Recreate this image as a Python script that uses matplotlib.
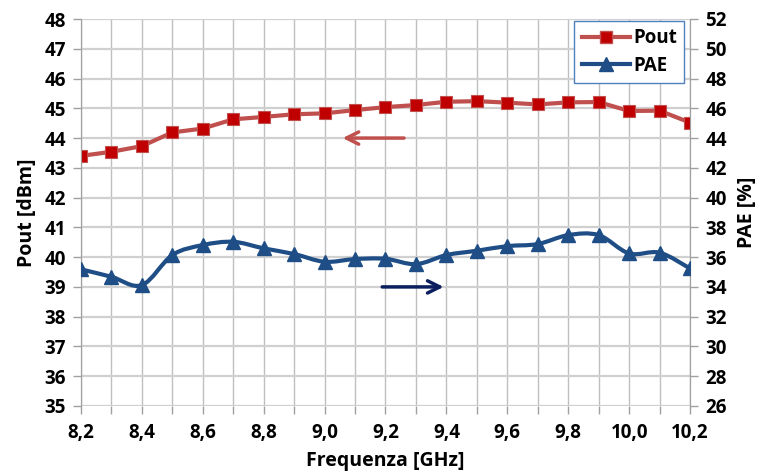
import numpy as np
import matplotlib
matplotlib.use("Agg")
import matplotlib.pyplot as plt
from matplotlib.path import Path
from matplotlib.patches import PathPatch
from matplotlib.ticker import MultipleLocator, FuncFormatter

freq = [8.2, 8.3, 8.4, 8.5, 8.6, 8.7, 8.8, 8.9, 9.0, 9.1, 9.2,
        9.3, 9.4, 9.5, 9.6, 9.7, 9.8, 9.9, 10.0, 10.1, 10.2]
pout = [43.40, 43.54, 43.73, 44.19, 44.32, 44.63, 44.71, 44.80, 44.83, 44.94, 45.04,
        45.11, 45.22, 45.24, 45.19, 45.13, 45.20, 45.21, 44.91, 44.92, 44.52]
pae = [35.18, 34.68, 34.12, 36.14, 36.81, 37.03, 36.59, 36.21, 35.69, 35.87, 35.89,
       35.53, 36.14, 36.43, 36.74, 36.88, 37.48, 37.48, 36.25, 36.30, 35.24]

red_line = "#C0504D"
red_mark = "#C00000"
blue = "#1F4E87"
navy = "#0B1F5E"

plt.rcParams['font.family'] = ['Open Sans', 'DejaVu Sans']
plt.rcParams['font.weight'] = 'bold'

fig = plt.figure(figsize=(7.69, 4.75), dpi=100)
ax = fig.add_axes([0.1053, 0.1453, 0.7920, 0.8147])
ax2 = ax.twinx()


def smooth_path(xs, ys, t=1/6):
    # excel-like smoothed line: cubic bezier through every point
    xs = np.asarray(xs, float)
    ys = np.asarray(ys, float)
    verts = [(xs[0], ys[0])]
    codes = [Path.MOVETO]
    n = len(xs)
    for i in range(n - 1):
        p0 = (xs[max(i - 1, 0)], ys[max(i - 1, 0)])
        p1 = (xs[i], ys[i])
        p2 = (xs[i + 1], ys[i + 1])
        p3 = (xs[min(i + 2, n - 1)], ys[min(i + 2, n - 1)])
        c1 = (p1[0] + (p2[0] - p0[0]) * t, p1[1] + (p2[1] - p0[1]) * t)
        c2 = (p2[0] - (p3[0] - p1[0]) * t, p2[1] - (p3[1] - p1[1]) * t)
        verts += [c1, c2, p2]
        codes += [Path.CURVE4] * 3
    return Path(verts, codes)


# Pout (left)
ax.plot(freq, pout, color=red_line, lw=3, zorder=3)
ax.plot(freq, pout, ls='none', marker='s', ms=8.5, mfc=red_mark, mec=red_line,
        mew=0.8, zorder=4)

# PAE (right), smoothed
ax2.add_patch(PathPatch(smooth_path(freq, pae), fill=False, ec=blue, lw=3,
                        zorder=3, capstyle='round'))
ax2.plot(freq, pae, ls='none', marker='^', ms=10, color=blue, zorder=4)

ax.set_xlim(8.2, 10.2)
ax.set_ylim(35, 48)
ax2.set_ylim(26, 52)
ax.yaxis.set_major_locator(MultipleLocator(1))
ax2.yaxis.set_major_locator(MultipleLocator(2))
ax.xaxis.set_major_locator(MultipleLocator(0.2))
ax.xaxis.set_minor_locator(MultipleLocator(0.1))
ax.xaxis.set_major_formatter(FuncFormatter(lambda v, p: f"{v:.1f}".replace('.', ',')))

ax.grid(True, which='both', axis='x', color='#BFBFBF', lw=1)
ax.grid(True, which='major', axis='y', color='#D0D0D0', lw=1.6)
ax.set_axisbelow(True)

for a in (ax, ax2):
    for s in a.spines.values():
        s.set_color('#A0A0A0')
    a.spines['top'].set_visible(False)
    a.spines['bottom'].set_visible(False)
    a.tick_params(colors='#A0A0A0', labelcolor='black', labelsize=13.5, length=6,
                  width=1, which='both')
ax.tick_params(axis='x', pad=6)
ax.tick_params(axis='y', pad=5)
ax2.tick_params(axis='y', pad=5)
for lbl in ax.get_xticklabels() + ax.get_yticklabels() + ax2.get_yticklabels():
    lbl.set_fontweight('bold')

ax.set_xlabel('Frequenza [GHz]', fontsize=14, fontweight='bold', labelpad=6)
ax.set_ylabel('Pout [dBm]', fontsize=14, fontweight='bold', labelpad=5)
ax2.set_ylabel('PAE [%]', fontsize=14, fontweight='bold', labelpad=7)

# arrows
ax.annotate('', xy=(9.05, 44), xytext=(9.27, 44),
            arrowprops=dict(arrowstyle='->', color=red_line, lw=2.5,
                            mutation_scale=22), zorder=5)
ax.annotate('', xy=(9.40, 39), xytext=(9.18, 39),
            arrowprops=dict(arrowstyle='->', color=navy, lw=2.5,
                            mutation_scale=22), zorder=5)

# legend
h1, = ax.plot([], [], color=red_line, lw=3, marker='s', ms=9, mfc=red_mark,
              mec=red_line)
h2, = ax.plot([], [], color=blue, lw=3, marker='^', ms=10.5)
leg = ax2.legend([h1, h2], ['Pout', 'PAE'], loc='upper right',
                 bbox_to_anchor=(0.994, 1.0), fancybox=False, framealpha=1,
                 edgecolor='#4F81BD', prop={'weight': 'bold', 'size': 13.5},
                 handlelength=2.6, borderpad=0.4, labelspacing=0.4,
                 handletextpad=0.15, borderaxespad=0.1)
leg.get_frame().set_linewidth(1)

fig.savefig('out.png', dpi=100)
